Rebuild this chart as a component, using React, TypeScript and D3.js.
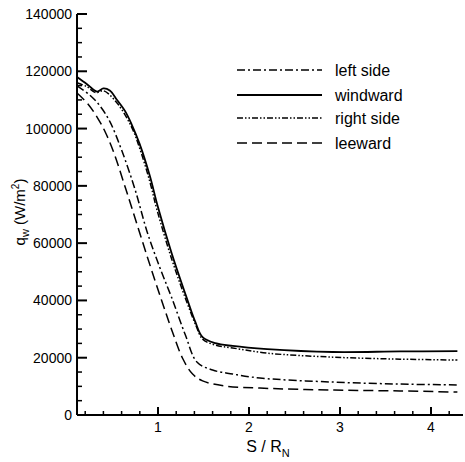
import React from "react";
import * as d3 from "d3";

const xTicks = [1, 2, 3, 4];
const yTicks = [0, 20000, 40000, 60000, 80000, 100000, 120000, 140000];
const seriesNames = ["left side", "windward", "right side", "leeward"];

const windwardS = [0.11, 0.22, 0.33, 0.40, 0.47, 0.55, 0.64, 0.71, 0.80, 0.91, 1.00, 1.15, 1.32, 1.41, 1.49, 1.63, 1.82, 2.20, 2.92, 3.66, 4.29];
const windwardQ = [118000, 115500, 112900, 114000, 113300, 110000, 106000, 101500, 94500, 83500, 72500, 56500, 40500, 32500, 27200, 25100, 24100, 23000, 22000, 22200, 22300];

const rightS = [0.11, 0.22, 0.32, 0.40, 0.55, 0.71, 0.80, 0.91, 0.99, 1.15, 1.31, 1.42, 1.49, 1.63, 1.82, 2.20, 2.92, 3.66, 4.29];
const rightQ = [116000, 114600, 112500, 113200, 108900, 100500, 93000, 81500, 71500, 54500, 40000, 31000, 26500, 24400, 23400, 21600, 20200, 19500, 19200];

const leftS = [0.11, 0.25, 0.36, 0.47, 0.60, 0.75, 0.88, 1.02, 1.15, 1.30, 1.43, 1.60, 1.82, 2.12, 2.92, 3.66, 4.29];
const leftQ = [114900, 111700, 108000, 102500, 92500, 78500, 64000, 51500, 41000, 28000, 18400, 15700, 14300, 12900, 11500, 10800, 10500];

const leewardS = [0.11, 0.23, 0.34, 0.42, 0.51, 0.64, 0.77, 0.91, 1.04, 1.15, 1.27, 1.38, 1.49, 1.74, 2.12, 2.92, 3.66, 4.29];
const leewardQ = [112400, 108600, 103500, 98800, 92000, 79500, 66500, 52500, 40000, 29800, 19800, 14300, 11900, 10100, 9400, 8700, 8400, 8000];

const dashes = ["8,3,2,3", "", "6,2,1.5,2,1.5,2", "10,5"];
const widths = [1.5, 1.8, 1.5, 1.5];

export default function App() {
  const W = 465, H = 462;
  const x = d3.scaleLinear().domain([0, 4]).range([67, 431]);
  const y = d3.scaleLinear().domain([0, 140000]).range([415, 14]);
  const x0 = x(0.11), x1 = 463;
  const font = "'Liberation Sans', Arial, Helvetica, sans-serif";

  const series = [
    { s: leftS, q: leftQ },
    { s: windwardS, q: windwardQ },
    { s: rightS, q: rightQ },
    { s: leewardS, q: leewardQ },
  ];
  const line = d3
    .line<[number, number]>()
    .x((d) => x(d[0]))
    .y((d) => y(d[1]))
    .curve(d3.curveCatmullRom.alpha(0.5));

  const xMinor = d3.range(0.2, 4.36, 0.2).filter((v) => Math.abs(v - Math.round(v)) > 0.01);
  const yMinor = d3.range(0, 140001, 5000).filter((v) => v % 20000 !== 0);

  const legendY = [70, 95, 118, 143];

  return (
    <svg width={W} height={H} style={{ position: "absolute", left: 0, top: 0, background: "#fff" }}>
      <rect x={0} y={0} width={W} height={H} fill="#fff" />
      <line x1={x0} x2={x0} y1={y(140000)} y2={y(0)} stroke="#000" strokeWidth={2} />
      <line x1={x0} x2={x1} y1={y(0)} y2={y(0)} stroke="#000" strokeWidth={2} />
      {yTicks.map((t) => (
        <g key={"yt" + t}>
          <line x1={x0} x2={x0 + 10} y1={y(t)} y2={y(t)} stroke="#000" strokeWidth={2} />
          <text x={x0 - 5} y={y(t)} dy="0.36em" textAnchor="end" fontFamily={font} fontSize={14} fill="#000">
            {t}
          </text>
        </g>
      ))}
      {yMinor.map((t) => (
        <line key={"ym" + t} x1={x0} x2={x0 + 5} y1={y(t)} y2={y(t)} stroke="#000" strokeWidth={1.5} />
      ))}
      {xTicks.map((t) => (
        <g key={"xt" + t}>
          <line x1={x(t)} x2={x(t)} y1={y(0)} y2={y(0) - 8} stroke="#000" strokeWidth={2} />
          <text x={x(t)} y={432} textAnchor="middle" fontFamily={font} fontSize={14} fill="#000">
            {t}
          </text>
        </g>
      ))}
      {xMinor.map((t) => (
        <line key={"xm" + t} x1={x(t)} x2={x(t)} y1={y(0)} y2={y(0) - 4} stroke="#000" strokeWidth={1.5} />
      ))}
      <text x={268} y={452} textAnchor="middle" fontFamily={font} fontSize={16} fill="#000">
        S / R<tspan fontSize={11} dy={5}>N</tspan>
      </text>
      <text
        transform="translate(25,212) rotate(-90)"
        textAnchor="middle"
        fontFamily={font}
        fontSize={15}
        fill="#000"
      >
        q<tspan fontSize={11} dy={4}>w</tspan>
        <tspan dy={-4}> (W/m</tspan>
        <tspan fontSize={10} dy={-6}>2</tspan>
        <tspan dy={6}>)</tspan>
      </text>
      {series.map((sr, i) => (
        <path
          key={"c" + i}
          d={line(sr.s.map((s, k) => [s, sr.q[k]] as [number, number])) || ""}
          fill="none"
          stroke="#000"
          strokeWidth={widths[i]}
          strokeDasharray={dashes[i] || undefined}
        />
      ))}
      {seriesNames.map((n, i) => (
        <g key={"lg" + i}>
          <line
            x1={237}
            x2={322}
            y1={legendY[i]}
            y2={legendY[i]}
            stroke="#000"
            strokeWidth={widths[i]}
            strokeDasharray={dashes[i] || undefined}
          />
          <text x={335} y={legendY[i]} dy="0.35em" fontFamily={font} fontSize={16} fill="#000">
            {n}
          </text>
        </g>
      ))}
    </svg>
  );
}
